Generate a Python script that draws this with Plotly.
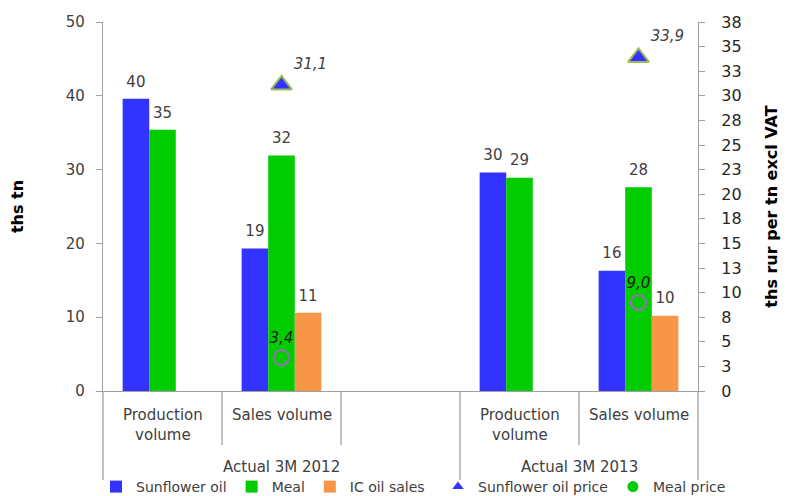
import plotly.graph_objects as go

# Category layout: two reporting periods, the first one carries an empty slot
periods = ["Actual 3M 2012", "Actual 3M 2012", "Actual 3M 2012", "Actual 3M 2013", "Actual 3M 2013"]
metrics = ["Production<br>volume", "Sales volume", " ", "Production<br>volume", "Sales volume"]

# Volumes, ths tn
sunflower_oil = [39.6, 19.3, None, 29.6, 16.3]
meal = [35.4, 31.9, None, 28.9, 27.6]
ic_oil_sales = [None, 10.6, None, None, 10.2]

# Prices, ths rur per tn excl VAT
sunflower_oil_price = [None, 31.1, None, None, 33.9]
meal_price = [None, 3.4, None, None, 9.0]

# Right axis ticks (step 2.5, shown rounded)
price_ticks = [i * 2.5 for i in range(16)]
price_tick_text = [str(int(v + 0.5)) for v in price_ticks]

FONT = "DejaVu Sans"
TXT = "#404040"
GRID = "#A0A0A0"
GAP = 0.33

# plot area in pixels (figure is 787 x 496)
M_L, M_R, M_T, M_B = 103, 89, 22, 105
PLOT_H = 496 - M_T - M_B


def px_below(px):
    """Paper y for a point px pixels below the x axis line."""
    return -px / PLOT_H


def fmt_price(v):
    return "" if v is None else f"<i>{v:.1f}</i>".replace(".", ",")


x = [periods, metrics]
fig = go.Figure()

bar_specs = [
    ("oil", "Sunflower oil", sunflower_oil, "#3333FF"),
    ("meal", "Meal", meal, "#00CC00"),
    ("ic", "IC oil sales", ic_oil_sales, "#F79646"),
]
for grp, name, vals, color in bar_specs:
    fig.add_trace(go.Bar(
        x=x, y=vals, name=name, offsetgroup=grp, legend="legend",
        marker=dict(color=color, line=dict(width=0)),
    ))
# value labels above the bars (invisible marker keeps the text clear of the bar top)
for grp, name, vals, color in bar_specs:
    fig.add_trace(go.Scatter(
        x=x, y=vals, offsetgroup=grp, mode="markers+text", showlegend=False,
        hoverinfo="skip", texttemplate="%{y:.0f}", textposition="top center",
        marker=dict(size=12, opacity=0),
        textfont=dict(family=FONT, size=15, color=TXT), cliponaxis=False,
    ))

# Price markers on the secondary axis
fig.add_trace(go.Scatter(
    x=x, y=sunflower_oil_price, yaxis="y2", mode="markers+text", offsetgroup="meal",
    name="Sunflower oil price", showlegend=False,
    marker=dict(symbol="triangle-up", size=18, color="#3333FF",
                line=dict(color="#9BBB59", width=2)),
    text=[fmt_price(v) for v in sunflower_oil_price], textposition="top right",
    textfont=dict(family=FONT, size=15, color=TXT),
    cliponaxis=False,
))
fig.add_trace(go.Scatter(
    x=x, y=meal_price, yaxis="y2", mode="markers+text", offsetgroup="meal",
    name="Meal price", showlegend=False,
    marker=dict(symbol="circle-open", size=15, color="#7F7F95",
                line=dict(color="#7F7F95", width=2.5)),
    text=[fmt_price(v) for v in meal_price], textposition="top center",
    textfont=dict(family=FONT, size=15, color="#1A1A1A"),
    cliponaxis=False,
))

# Legend entries for the price series
fig.add_trace(go.Scatter(
    x=[None], y=[None], yaxis="y2", mode="markers", name="Sunflower oil price",
    offsetgroup="meal", legend="legend2",
    marker=dict(symbol="triangle-up", size=10, color="#3333FF"),
))
fig.add_trace(go.Scatter(
    x=[None], y=[None], yaxis="y2", mode="markers", name="Meal price",
    offsetgroup="meal", legend="legend2",
    marker=dict(symbol="circle", size=11, color="#00CC00"),
))

n = len(metrics)
shapes = []
annotations = []

# Dividers: short ones between metrics, long ones at period boundaries
for i in range(n + 1):
    xp = i / n
    at_edge = i == 0 or i == n or periods[i - 1] != periods[i]
    shapes.append(dict(type="line", xref="paper", yref="paper",
                       x0=xp, x1=xp, y0=0, y1=px_below(89 if at_edge else 54),
                       line=dict(color=GRID, width=1.3)))

# Metric labels
for i, m in enumerate(metrics):
    annotations.append(dict(text=m, xref="paper", yref="paper",
                            x=(i + 0.5) / n, xanchor="center",
                            y=px_below(13), yanchor="top",
                            showarrow=False, align="center",
                            font=dict(family=FONT, size=15, color=TXT)))

# Period labels centred under their categories
for p in dict.fromkeys(periods):
    idx = [i for i, q in enumerate(periods) if q == p]
    xc = (min(idx) + max(idx) + 1) / 2 / n
    annotations.append(dict(text=p, xref="paper", yref="paper",
                            x=xc, xanchor="center", y=px_below(76), yanchor="middle",
                            showarrow=False,
                            font=dict(family=FONT, size=15, color=TXT)))

legend_style = dict(
    orientation="h", xref="container", yref="container",
    xanchor="left", y=25 / 496, yanchor="top",
    font=dict(family=FONT, size=14, color=TXT),
    itemwidth=30, tracegroupgap=0, bgcolor="rgba(0,0,0,0)",
    traceorder="normal",
)

fig.update_layout(
    width=787, height=496,
    margin=dict(l=M_L, r=M_R, t=M_T, b=M_B),
    paper_bgcolor="white", plot_bgcolor="white",
    font=dict(family=FONT, size=15, color=TXT),
    barmode="group", bargap=GAP, bargroupgap=0,
    scattermode="group", scattergap=GAP,
    shapes=shapes, annotations=annotations,
    xaxis=dict(
        type="multicategory", showline=True, linecolor=GRID, linewidth=1.3,
        ticks="", showdividers=False, showgrid=False, showticklabels=False,
        automargin=False,
    ),
    yaxis=dict(
        range=[0, 50], dtick=10, showgrid=False, zeroline=False,
        showline=True, linecolor=GRID, linewidth=1.3,
        ticks="outside", ticklen=6, tickcolor=GRID, ticklabelstandoff=8,
        tickfont=dict(family=FONT, size=15, color=TXT), automargin=False,
        title=dict(text="<b>ths tn</b>", font=dict(family=FONT, size=16, color="#000000"),
                   standoff=38),
    ),
    yaxis2=dict(
        overlaying="y", side="right", range=[0, 37.5],
        tickvals=price_ticks, ticktext=price_tick_text,
        showgrid=False, zeroline=False,
        showline=True, linecolor=GRID, linewidth=1.3,
        ticks="outside", ticklen=6, tickcolor=GRID, ticklabelstandoff=13,
        tickfont=dict(family=FONT, size=16, color="#262626"), automargin=False,
        title=dict(text="<b>ths rur per tn excl VAT</b>",
                   font=dict(family=FONT, size=16, color="#000000"), standoff=25),
    ),
    legend=dict(legend_style, x=96 / 787),
    legend2=dict(legend_style, x=438 / 787),
)

fig.write_html("out.html")
